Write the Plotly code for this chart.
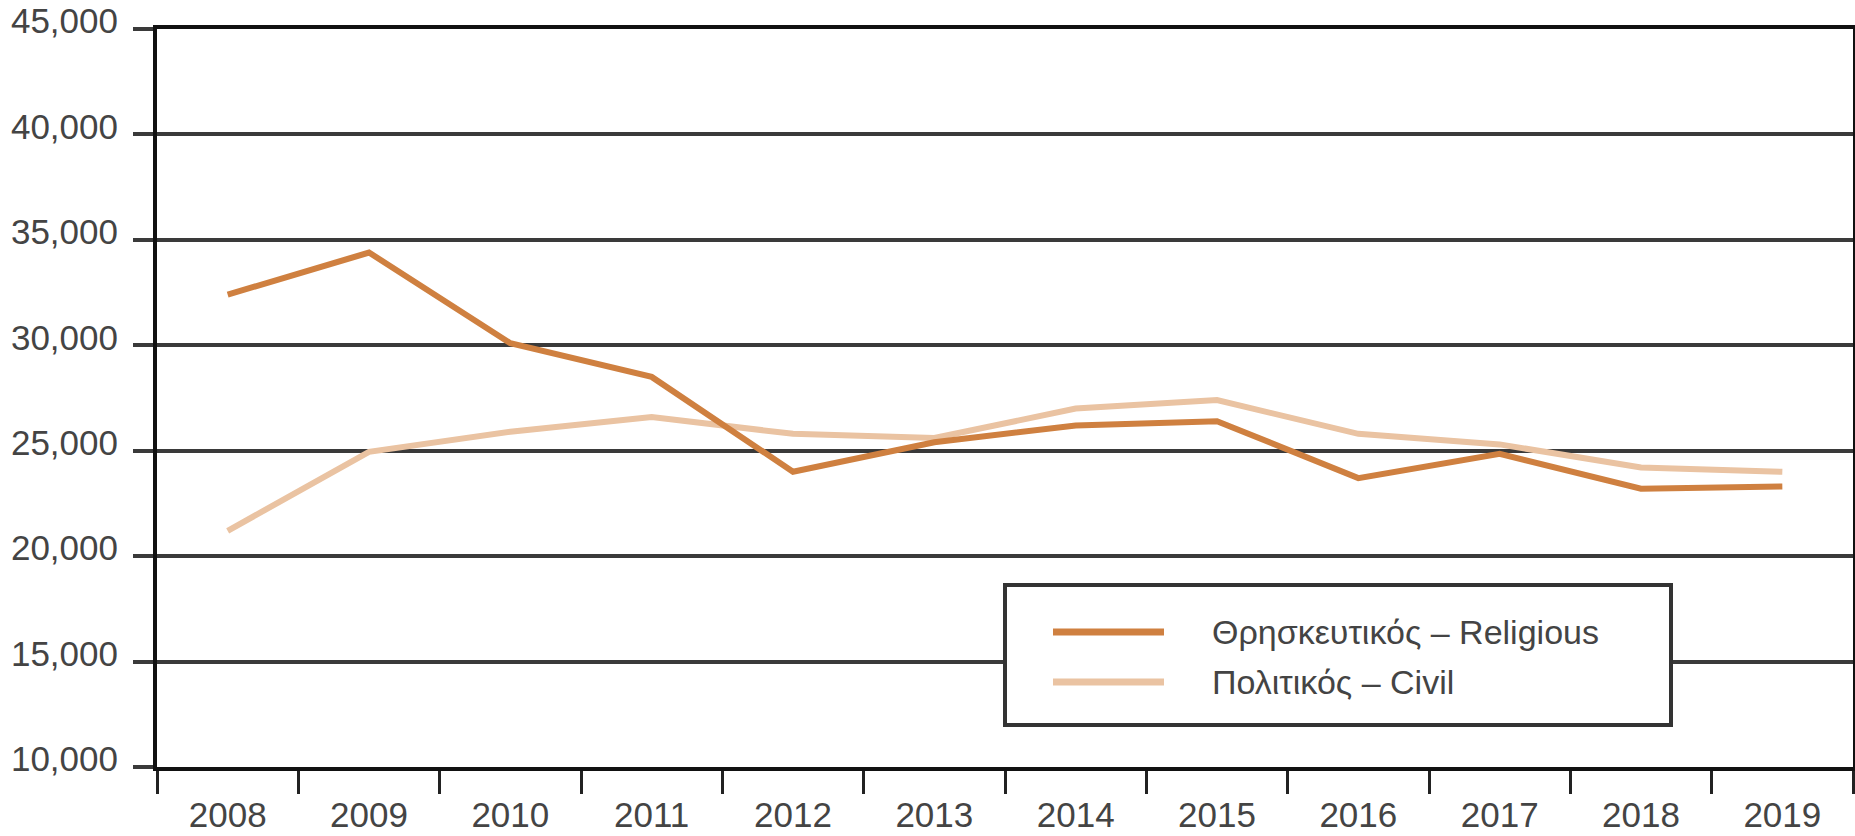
import plotly.graph_objects as go

years = ["2008", "2009", "2010", "2011", "2012", "2013", "2014", "2015", "2016", "2017", "2018", "2019"]
religious = [32400, 34400, 30100, 28500, 24000, 25400, 26200, 26400, 23700, 24850, 23200, 23300]
civil = [21200, 24950, 25900, 26600, 25800, 25600, 27000, 27400, 25800, 25300, 24200, 24000]
series_names = ["Θρησκευτικός – Religious", "Πολιτικός – Civil"]
series_colors = ["#CF8040", "#EAC3A2"]
y_ticks = [10000, 15000, 20000, 25000, 30000, 35000, 40000, 45000]

W, H = 1855, 836
ML, MR, MT, MB = 157, 2, 29, 69
PW = W - ML - MR
PH = H - MT - MB
FONT = "Liberation Sans, Arial, sans-serif"
TXT = "#444444"


def px_x(p):
    return (p - ML) / PW


def px_y(p):
    return (H - MB - p) / PH


fig = go.Figure()
fig.add_trace(go.Scatter(x=years, y=civil, mode="lines", name=series_names[1],
                         line=dict(color=series_colors[1], width=6), showlegend=False))
fig.add_trace(go.Scatter(x=years, y=religious, mode="lines", name=series_names[0],
                         line=dict(color=series_colors[0], width=6), showlegend=False))

shapes = []
annotations = []
# legend box
shapes.append(dict(type="rect", xref="paper", yref="paper",
                   x0=px_x(1005), x1=px_x(1671), y0=px_y(725), y1=px_y(585),
                   line=dict(color="#333333", width=4), fillcolor="white", layer="above"))
for i, yy in enumerate([632, 682]):
    shapes.append(dict(type="line", xref="paper", yref="paper",
                       x0=px_x(1053), x1=px_x(1164), y0=px_y(yy), y1=px_y(yy),
                       line=dict(color=series_colors[i], width=7), layer="above"))
    annotations.append(dict(xref="paper", yref="paper", x=px_x(1210), y=px_y(yy),
                            xanchor="left", yanchor="middle", showarrow=False,
                            text=series_names[i], font=dict(family=FONT, size=34, color=TXT)))

fig.update_layout(
    width=W, height=H,
    margin=dict(l=ML, r=MR, t=MT, b=MB, pad=0, autoexpand=False),
    paper_bgcolor="white", plot_bgcolor="white",
    font=dict(family=FONT, size=35, color=TXT),
    shapes=shapes, annotations=annotations,
    showlegend=False,
    xaxis=dict(type="category", categoryorder="array", categoryarray=years,
               range=[-0.5, len(years) - 0.5], automargin=False,
               showline=True, linecolor="#111111", linewidth=4, mirror=True,
               ticks="outside", tickson="boundaries", ticklen=23, tickwidth=3, tickcolor="#222222",
               showgrid=False, zeroline=False,
               tickfont=dict(family=FONT, size=35, color=TXT), ticklabelstandoff=14),
    yaxis=dict(range=[10000, 45000], tickvals=y_ticks, tickformat=",", automargin=False,
               showgrid=True, gridcolor="#3a3a3a", gridwidth=4,
               ticks="outside", ticklen=20, tickwidth=4, tickcolor="#3a3a3a",
               showline=True, linecolor="#111111", linewidth=4, mirror=True,
               zeroline=False,
               tickfont=dict(family=FONT, size=35, color=TXT),
               ticklabelstandoff=8, ticklabelshift=-8, ticklabeloverflow="allow"),
)

fig.write_html("out.html", config={"displayModeBar": False},
               post_script="document.body.style.margin='0';document.body.style.padding='0';")
